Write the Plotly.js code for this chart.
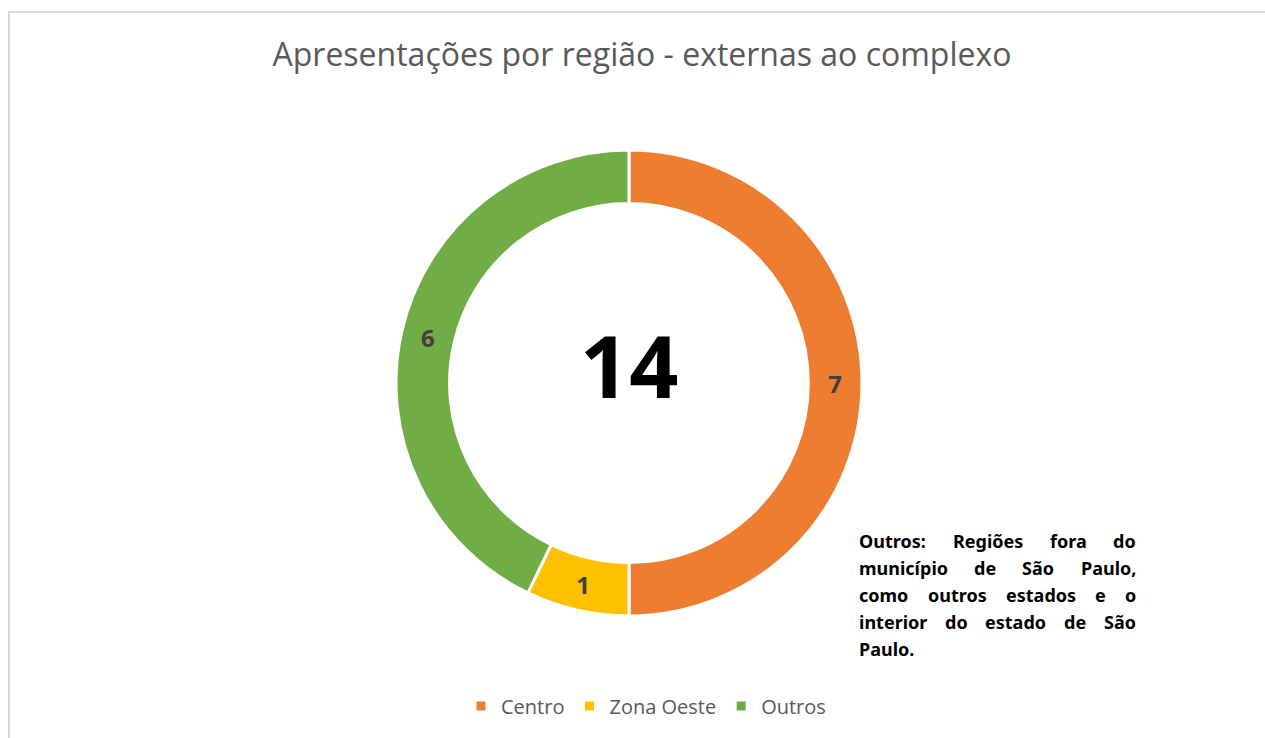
<!DOCTYPE html>
<html>
<head>
<meta charset="utf-8">
<script src="https://cdn.plot.ly/plotly-3.0.1.min.js"></script>
<style>
  html, body { margin: 0; padding: 0; overflow: hidden; background: #fff; }
  #graph { position: absolute; left: 0; top: 0; width: 1265px; height: 738px; }
  #frame { position: absolute; left: 8px; top: 11px; width: 1300px; height: 800px;
           border: 2px solid #d9d9d9; pointer-events: none; }
</style>
</head>
<body>
<div id="graph"></div>
<div id="frame"></div>
<script>
// Data
const regioes = ['Centro', 'Zona Oeste', 'Outros'];
const apresentacoes = [7, 1, 6];
const cores = ['#ED7D31', '#FFC000', '#70AD47'];
const notaLinhas = [
  'Outros: Regiões fora do',
  'município de São Paulo,',
  'como outros estados e o',
  'interior do estado de São',
  'Paulo.'
];

const W = 1265, H = 738;
const total = apresentacoes.reduce((a, b) => a + b, 0);

// Justified note box (pixel placement of the text block)
const notaX = 858, notaTop = 541, notaLargura = 277, notaPasso = 27;
const notaFonte = { family: 'Noto Sans', size: 18, color: '#000000', weight: 'bold' };

const ctx = document.createElement('canvas').getContext('2d');
ctx.font = 'bold 18px "Noto Sans"';

function notaAnotacoes() {
  const out = [];
  notaLinhas.forEach((linha, i) => {
    const palavras = linha.split(' ');
    const y = 1 - (notaTop + i * notaPasso) / H;
    const ultima = i === notaLinhas.length - 1;
    const larguras = palavras.map(p => ctx.measureText(p).width);
    const soma = larguras.reduce((a, b) => a + b, 0);
    const gap = ultima || palavras.length < 2 ? ctx.measureText(' ').width
      : (notaLargura - soma) / (palavras.length - 1);
    let x = notaX;
    palavras.forEach((p, j) => {
      out.push({
        text: p, x: x / W, y: y, xref: 'paper', yref: 'paper',
        xanchor: 'left', yanchor: 'middle', showarrow: false,
        borderpad: 0, font: notaFonte
      });
      x += larguras[j] + gap;
    });
  });
  return out;
}

const trace = {
  type: 'pie',
  labels: regioes,
  values: apresentacoes,
  sort: false,
  direction: 'clockwise',
  rotation: 0,
  hole: 0.77,
  marker: { colors: cores, line: { color: '#ffffff', width: 3 } },
  textinfo: 'value',
  textposition: 'inside',
  insidetextorientation: 'horizontal',
  textfont: { family: 'Open Sans', size: 24, color: '#404040', weight: 'bold' },
  domain: { x: [396 / W, 862 / W], y: [(H - 616) / H, (H - 150) / H] },
  hoverinfo: 'label+value'
};

const layout = {
  width: W,
  height: H,
  margin: { l: 0, r: 0, t: 0, b: 0 },
  paper_bgcolor: '#ffffff',
  title: {
    text: 'Apresentações por região - externas ao complexo',
    font: { family: 'Open Sans', size: 32, color: '#595959' },
    x: 642 / W, xanchor: 'center', xref: 'paper',
    y: 1 - 55 / H, yanchor: 'middle', yref: 'container'
  },
  showlegend: true,
  legend: {
    orientation: 'h',
    x: 646 / W, xanchor: 'center',
    y: 1 - 706 / H, yanchor: 'middle',
    font: { family: 'Open Sans', size: 20, color: '#595959' },
    traceorder: 'normal'
  },
  annotations: [
    {
      text: String(total),
      x: 629 / W, y: 1 - 364 / H, xref: 'paper', yref: 'paper',
      showarrow: false,
      font: { family: 'Open Sans', size: 86, color: '#000000', weight: 'bold' }
    }
  ].concat(notaAnotacoes())
};

Plotly.newPlot('graph', [trace], layout, { displayModeBar: false });
</script>
</body>
</html>
